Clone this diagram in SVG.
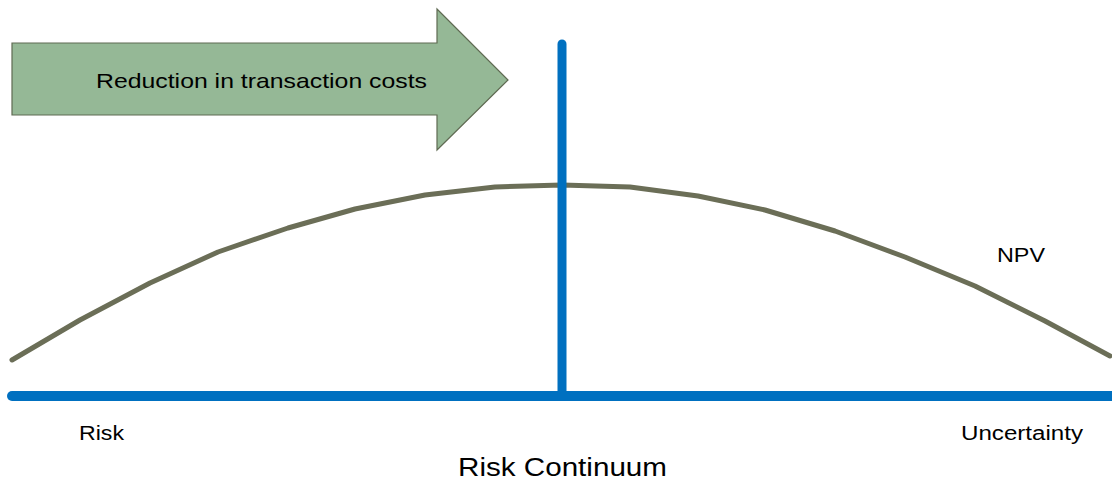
<svg xmlns="http://www.w3.org/2000/svg" width="1112" height="482" viewBox="0 0 1112 482">
<style>
.lbl{font-family:"Liberation Sans",Arial,sans-serif;fill:#000}
.blue{stroke:#0070C0;fill:none;stroke-linecap:round}
</style>
<rect width="1112" height="482" fill="#fff"/>
<g id="arrow">
<polygon points="12,43 437,43 437,9 508,80 437,150 437,115 12,115" fill="#95B896" stroke="#5F6A52" stroke-width="1.2"/>
<text class="lbl" x="96" y="88" font-size="21" textLength="331" lengthAdjust="spacingAndGlyphs">Reduction in transaction costs</text>
</g>
<g id="npv-curve">
<polyline points="12,360 80,320 150,283 218,252 288,228 355,209 425,195 495,187 562,185 630,187 698,196 765,210 835,231 905,257 975,286 1045,321 1110,356" fill="none" stroke="#6B6E57" stroke-width="5" stroke-linecap="round" stroke-linejoin="round"/>
<text class="lbl" x="997" y="262" font-size="20" textLength="48" lengthAdjust="spacingAndGlyphs">NPV</text>
</g>
<g id="connectors">
<line class="blue" x1="12" y1="396" x2="1118" y2="396" stroke-width="10"/>
<line class="blue" x1="562" y1="44" x2="562" y2="392" stroke-width="9"/>
</g>
<g id="labels">
<text class="lbl" x="79" y="440" font-size="20" textLength="45" lengthAdjust="spacingAndGlyphs">Risk</text>
<text class="lbl" x="961" y="440" font-size="20" textLength="122" lengthAdjust="spacingAndGlyphs">Uncertainty</text>
<text class="lbl" x="458" y="476" font-size="26" textLength="209" lengthAdjust="spacingAndGlyphs">Risk Continuum</text>
</g>
</svg>
